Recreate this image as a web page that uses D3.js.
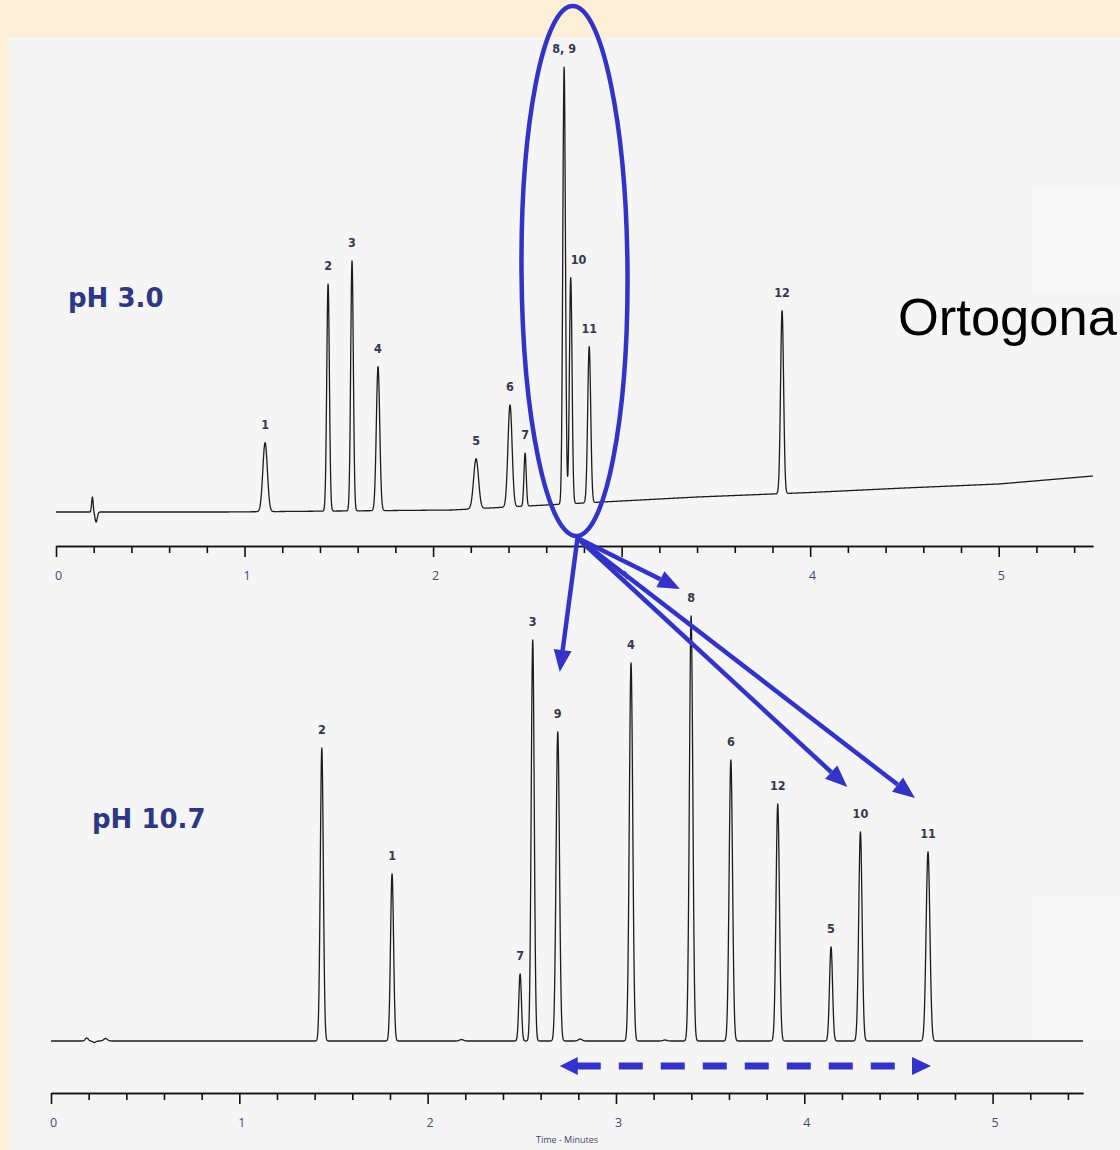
<!DOCTYPE html>
<html>
<head>
<meta charset="utf-8">
<script src="https://cdn.jsdelivr.net/npm/d3@7"></script>
<style>
  body { margin: 0; background: #fcefd8; }
</style>
</head>
<body>
<div id="chartDiv"></div>
<script>
// pH 3.0 run: retention time (min), height above baseline, peak sigma (min)
const topTimes   = [1.109, 1.443, 1.570, 1.708, 2.228, 2.408, 2.488, 2.695, 2.730, 2.828, 3.851];
const topHeights = [69, 227, 250, 144, 50, 102, 53, 437, 226, 156, 183];
const topWidths  = [0.012, 0.007, 0.007, 0.009, 0.013, 0.011, 0.006, 0.007, 0.007, 0.008, 0.008];
const topNames   = ["1", "2", "3", "4", "5", "6", "7", "8, 9", "10", "11", "12"];

// injection disturbance near the start of the pH 3.0 run
const topGlitchTimes   = [0.193, 0.213];
const topGlitchHeights = [15, -10];
const topGlitchWidths  = [0.004, 0.006];

// gradient baseline drift of the pH 3.0 run
const topDriftTimes = [0, 0.9, 2.1, 2.3, 2.9, 3.4, 3.8, 4.0, 4.5, 5.0, 5.5];
const topDrift      = [0, 0, 2, 4, 10, 15, 18, 19.5, 24, 28, 36];

// pH 10.7 run
const bottomTimes   = [1.438, 1.811, 2.491, 2.558, 2.691, 3.080, 3.399, 3.610, 3.859, 4.142, 4.298, 4.657];
const bottomHeights = [293, 167, 67, 401, 309, 378, 425, 281, 237, 94, 209, 189];
const bottomWidths  = [0.008, 0.008, 0.007, 0.008, 0.009, 0.009, 0.009, 0.009, 0.009, 0.008, 0.009, 0.010];
const bottomNames   = ["2", "1", "7", "3", "9", "4", "8", "6", "12", "5", "10", "11"];

// small baseline bumps in the pH 10.7 run
const bottomBumpTimes   = [0.19, 0.23, 0.29, 2.18, 2.81, 3.26];
const bottomBumpHeights = [3, -1.5, 2.5, 1.5, 2, 1];
const bottomBumpWidths  = [0.008, 0.008, 0.01, 0.01, 0.01, 0.01];

const majorTicks = [0, 1, 2, 3, 4, 5];
const minorTicks = d3.range(0, 5.45, 0.2).filter(d => Math.abs(d - Math.round(d)) > 0.01);

var svg = d3.select("#chartDiv")
    .append("svg")
    .attr("width", 1120)
    .attr("height", 1150);

var blue = "#3333c8";

// slide background + grey picture panel
svg.append("rect").attr("width", 1120).attr("height", 1150).attr("fill", "#fcefd8");
svg.append("rect").attr("x", 8).attr("y", 37).attr("width", 1112).attr("height", 1113).attr("fill", "#f5f5f5");
svg.append("rect").attr("x", 1032).attr("y", 187).attr("width", 88).attr("height", 106).attr("fill", "#f8f8f8");
svg.append("rect").attr("x", 1032).attr("y", 897).attr("width", 88).attr("height", 143).attr("fill", "#f7f7f7");

var xTop = d3.scaleLinear().domain([0, 5.5]).range([56, 1093]);
var yTop = d3.scaleLinear().domain([0, 445]).range([512, 67]);
var xBottom = d3.scaleLinear().domain([0, 5.48]).range([51, 1083]);
var yBottom = d3.scaleLinear().domain([0, 425]).range([1041, 616]);

var topDriftScale = d3.scaleLinear().domain(topDriftTimes).range(topDrift).clamp(true);
var flatDrift = () => 0;

// detector signal = baseline + sum of gaussian peaks from the peak tables
function buildTrace(times, heights, widths, drift, tEnd) {
    return d3.range(0, tEnd + 1e-9, 0.001).map(t => {
        var v = drift(t);
        for (var i = 0; i < times.length; i++) {
            var z = (t - times[i]) / widths[i];
            if (Math.abs(z) < 8) v += heights[i] * Math.exp(-0.5 * z * z);
        }
        return [t, v];
    });
}

function drawRun(x, y, times, heights, widths, extraT, extraH, extraW, drift, tEnd, names) {
    var data = buildTrace(times.concat(extraT), heights.concat(extraH), widths.concat(extraW), drift, tEnd);
    svg.append("path")
        .datum(data)
        .attr("fill", "none")
        .attr("stroke", "#1c1c1c")
        .attr("stroke-width", 1.3)
        .attr("stroke-linejoin", "round")
        .attr("d", d3.line().x(d => x(d[0])).y(d => y(d[1])));

    // peak numbers
    svg.selectAll(null)
        .data(times.map((t, i) => ({ t: t, h: heights[i], name: names[i], prev: i > 0 ? times[i - 1] : -1 })))
        .enter()
        .append("text")
        .attr("x", d => x(d.t))
        .attr("y", d => y(drift(d.t) + d.h) - 14)
        // a peak right after another one gets its number pushed to the right
        .attr("text-anchor", d => (d.t - d.prev < 0.05) ? "start" : "middle")
        .style("font-family", "'DejaVu Sans Condensed', 'DejaVu Sans', sans-serif")
        .style("font-weight", "bold")
        .style("font-size", "12.5px")
        .attr("fill", "#36364e")
        .text(d => d.name);
}

drawRun(xTop, yTop, topTimes, topHeights, topWidths,
    topGlitchTimes, topGlitchHeights, topGlitchWidths, topDriftScale, 5.5, topNames);
drawRun(xBottom, yBottom, bottomTimes, bottomHeights, bottomWidths,
    bottomBumpTimes, bottomBumpHeights, bottomBumpWidths, flatDrift, 5.48, bottomNames);

function drawAxis(x, yPos) {
    var minor = svg.append("g")
        .attr("transform", "translate(0," + yPos + ")")
        .call(d3.axisBottom(x).tickValues(minorTicks).tickSize(7).tickSizeOuter(0).tickFormat(""));
    var major = svg.append("g")
        .attr("transform", "translate(0," + yPos + ")")
        .call(d3.axisBottom(x).tickValues(majorTicks).tickSize(11).tickSizeOuter(0).tickPadding(14).tickFormat(d3.format("d")));
    [minor, major].forEach(g => {
        g.selectAll("path, line").attr("stroke", "#111").attr("stroke-width", 1.6);
        g.selectAll("text")
            .attr("dx", 2)
            .attr("fill", "#3f4a78")
            .style("font-family", "'Open Sans', sans-serif")
            .style("font-size", "12.5px");
    });
}

drawAxis(xTop, 546);
drawAxis(xBottom, 1093);

svg.append("text")
    .attr("x", (xBottom.range()[0] + xBottom.range()[1]) / 2)
    .attr("y", 1143)
    .attr("text-anchor", "middle")
    .style("font-family", "'Open Sans', sans-serif")
    .style("font-size", "9px")
    .attr("fill", "#3e4470")
    .text("Time - Minutes");

// run titles
svg.append("text")
    .attr("x", 68).attr("y", 307)
    .style("font-family", "'DejaVu Sans', sans-serif")
    .style("font-weight", "bold")
    .style("font-size", "26px")
    .attr("fill", "#2e3784")
    .text("pH 3.0");
svg.append("text")
    .attr("x", 92).attr("y", 828)
    .style("font-family", "'DejaVu Sans', sans-serif")
    .style("font-weight", "bold")
    .style("font-size", "26px")
    .attr("fill", "#2e3784")
    .text("pH 10.7");

svg.append("text")
    .attr("x", 898).attr("y", 335)
    .style("font-family", "'Liberation Sans', Arial, sans-serif")
    .style("font-size", "52.5px")
    .attr("fill", "#000")
    .text("Ortogona");

// ring around the co-eluting cluster 8-11 at pH 3.0
var ringX = xTop(2.75), ringY = 271;
svg.append("ellipse")
    .attr("cx", ringX).attr("cy", ringY)
    .attr("rx", 53).attr("ry", 265)
    .attr("fill", "none")
    .attr("stroke", blue)
    .attr("stroke-width", 4.5)
    .attr("transform", "rotate(-0.4 " + ringX + " " + ringY + ")");

function arrow(x0, y0, x1, y1, len, half, width) {
    var a = Math.atan2(y1 - y0, x1 - x0);
    var bx = x1 - len * Math.cos(a), by = y1 - len * Math.sin(a);
    svg.append("line")
        .attr("x1", x0).attr("y1", y0).attr("x2", bx).attr("y2", by)
        .attr("stroke", blue).attr("stroke-width", width);
    svg.append("polygon")
        .attr("points", [[x1, y1],
            [bx + half * Math.sin(a), by - half * Math.cos(a)],
            [bx - half * Math.sin(a), by + half * Math.cos(a)]].map(p => p.join(",")).join(" "))
        .attr("fill", blue);
}

// where each compound of the cluster went at pH 10.7
var arrowTargets = [
    { name: "9", dx: 2, dy: -60 },
    { name: "8", dx: -11, dy: -27 },
    { name: "10", dx: -13, dy: -45 },
    { name: "11", dx: -13, dy: -54 }
];
arrowTargets.forEach(a => {
    var i = bottomNames.indexOf(a.name);
    var tx = xBottom(bottomTimes[i]) + a.dx;
    var ty = yBottom(bottomHeights[i]) + a.dy;
    arrow(ringX + 3, 538, tx, ty, 22, 9, 4.5);
});

// dashed span of the cluster at pH 10.7
var spanY = 1066;
var spanL = xBottom(bottomTimes[bottomNames.indexOf("9")]) + 2;
var spanR = xBottom(bottomTimes[bottomNames.indexOf("11")]) + 3;
svg.append("line")
    .attr("x1", spanL + 17).attr("y1", spanY)
    .attr("x2", spanR - 18).attr("y2", spanY)
    .attr("stroke", blue)
    .attr("stroke-width", 7)
    .attr("stroke-dasharray", "24,18");
svg.append("polygon")
    .attr("points", [[spanL, spanY], [spanL + 18, spanY - 9], [spanL + 18, spanY + 9]].map(p => p.join(",")).join(" "))
    .attr("fill", blue);
svg.append("polygon")
    .attr("points", [[spanR, spanY], [spanR - 19, spanY - 9], [spanR - 19, spanY + 9]].map(p => p.join(",")).join(" "))
    .attr("fill", blue);
</script>
</body>
</html>
